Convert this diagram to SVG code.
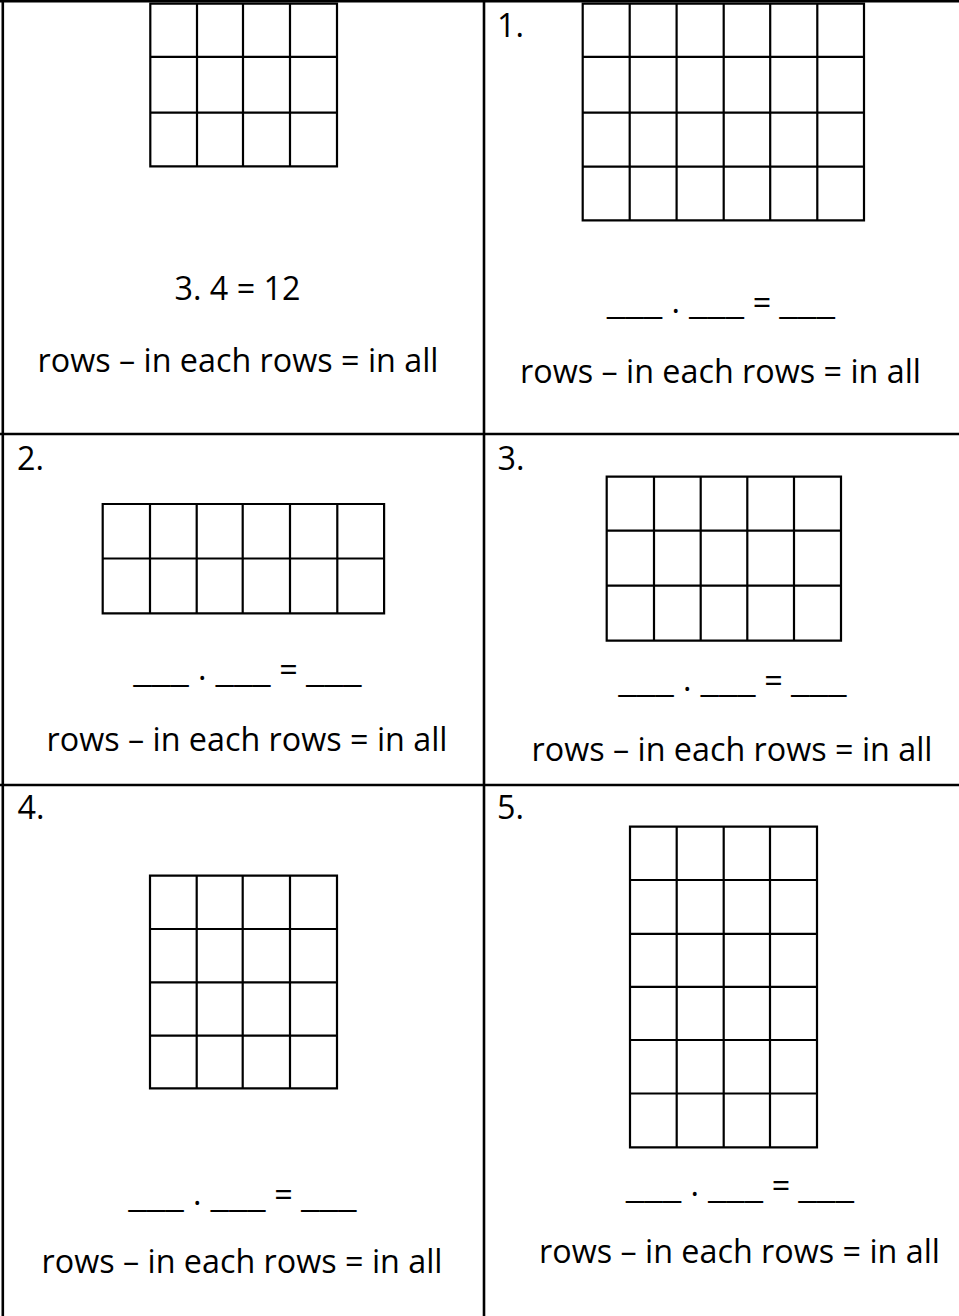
<svg xmlns="http://www.w3.org/2000/svg" width="959" height="1316" viewBox="0 0 959 1316">
<style>
  .bg { fill: #ffffff; }
  .rule { stroke: #000; stroke-width: 2.6; fill: none; }
  .grid { stroke: #000; stroke-width: 2.2; fill: none; }
  text { font-family: "Open Sans", "Noto Sans", "Liberation Sans", sans-serif; font-size: 32.3px; fill: #000; }
  .mid { text-anchor: middle; }
</style>
<defs>
  <g id="blanks">
    <text x="0" y="-5.2" textLength="55.6" lengthAdjust="spacingAndGlyphs">___</text>
    <text x="69" y="2.4" class="mid">·</text>
    <text x="82.3" y="-5.2" textLength="55" lengthAdjust="spacingAndGlyphs">___</text>
    <text x="155.3" y="-5.5" class="mid">=</text>
    <text x="172.6" y="-5.2" textLength="55.7" lengthAdjust="spacingAndGlyphs">___</text>
  </g>
</defs>
<rect class="bg" x="0" y="0" width="959" height="1316"/>

<g id="table">
  <path class="rule" d="M2.8 0 V1316 M484 0 V1316 M0 1.3 H959 M0 434 H959 M0 785 H959"/>
</g>

<g id="cell-example">
  <path class="grid" d="M150.3 3.7 H337 V166.3 H150.3 Z M197 3.7 V166.3 M243 3.7 V166.3 M290 3.7 V166.3 M150.3 56.8 H337 M150.3 112.6 H337"/>
  <text x="237.5" y="299.5" class="mid">3. 4 = 12</text>
  <text x="238" y="371.5" class="mid">rows – in each rows = in all</text>
</g>

<g id="cell-1">
  <text x="497" y="37.3">1.</text>
  <path class="grid" d="M582.7 3.7 H864 V220.4 H582.7 Z M629.7 3.7 V220.4 M676.6 3.7 V220.4 M723.7 3.7 V220.4 M770.2 3.7 V220.4 M817.3 3.7 V220.4 M582.7 56.8 H864 M582.7 112.7 H864 M582.7 166.7 H864"/>
  <use href="#blanks" transform="translate(606.7,319.3)"/>
  <text x="720.5" y="383.3" class="mid">rows – in each rows = in all</text>
</g>

<g id="cell-2">
  <text x="17" y="470">2.</text>
  <path class="grid" d="M102.7 504 H384.1 V613.3 H102.7 Z M150 504 V613.3 M196.7 504 V613.3 M242.7 504 V613.3 M290 504 V613.3 M337.3 504 V613.3 M102.7 558.5 H384.1"/>
  <use href="#blanks" transform="translate(133.3,686.7)"/>
  <text x="247" y="751" class="mid">rows – in each rows = in all</text>
</g>

<g id="cell-3">
  <text x="497.5" y="470">3.</text>
  <path class="grid" d="M606.7 476.7 H841 V640.7 H606.7 Z M654 476.7 V640.7 M700.7 476.7 V640.7 M747.3 476.7 V640.7 M794 476.7 V640.7 M606.7 530.7 H841 M606.7 585.7 H841"/>
  <use href="#blanks" transform="translate(618.3,697.3)"/>
  <text x="732" y="761" class="mid">rows – in each rows = in all</text>
</g>

<g id="cell-4">
  <text x="17.5" y="819.3">4.</text>
  <path class="grid" d="M150 875.7 H337 V1088.3 H150 Z M196.7 875.7 V1088.3 M242.7 875.7 V1088.3 M290 875.7 V1088.3 M150 929 H337 M150 982.3 H337 M150 1035.7 H337"/>
  <use href="#blanks" transform="translate(128.3,1211.7)"/>
  <text x="242" y="1272.7" class="mid">rows – in each rows = in all</text>
</g>

<g id="cell-5">
  <text x="497" y="819.3">5.</text>
  <path class="grid" d="M630 826.7 H817 V1147.3 H630 Z M676.7 826.7 V1147.3 M723.7 826.7 V1147.3 M770 826.7 V1147.3 M630 880 H817 M630 933.8 H817 M630 986.8 H817 M630 1040 H817 M630 1093.5 H817"/>
  <use href="#blanks" transform="translate(625.7,1202.7)"/>
  <text x="739.5" y="1263.3" class="mid">rows – in each rows = in all</text>
</g>
</svg>
